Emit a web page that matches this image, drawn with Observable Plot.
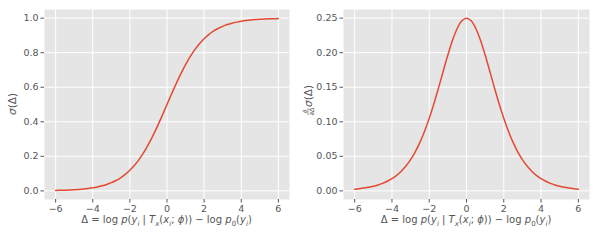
<!DOCTYPE html>
<html><head><meta charset="utf-8">
<script src="https://cdn.jsdelivr.net/npm/d3@7"></script>
<script src="https://cdn.jsdelivr.net/npm/@observablehq/plot@0.6"></script>
<style>
body{margin:0;background:#fff}
#c{position:relative;width:598px;height:240px}
#c svg{position:absolute;top:0}
</style>
</head><body><div id="c"></div>
<script>
const deltas = [-6,-5.75,-5.5,-5.25,-5,-4.75,-4.5,-4.25,-4,-3.75,-3.5,-3.25,-3,-2.75,-2.5,-2.25,-2,-1.75,-1.5,-1.25,-1,-0.75,-0.5,-0.25,0,
  0.25,0.5,0.75,1,1.25,1.5,1.75,2,2.25,2.5,2.75,3,3.25,3.5,3.75,4,4.25,4.5,4.75,5,5.25,5.5,5.75,6];
const sigmaVals = [0.0025,0.0032,0.0041,0.0052,0.0067,0.0086,0.011,0.0141,0.018,0.023,0.0293,0.0373,0.0474,0.0601,0.0759,0.0954,0.1192,0.148,0.1824,0.2227,0.2689,0.3208,0.3775,0.4378,0.5,
  0.5622,0.6225,0.6792,0.7311,0.7773,0.8176,0.852,0.8808,0.9046,0.9241,0.9399,0.9526,0.9627,0.9707,0.977,0.982,0.9859,0.989,0.9914,0.9933,0.9948,0.9959,0.9968,0.9975];
const dsigmaVals = [0.0025,0.0032,0.0041,0.0052,0.0066,0.0085,0.0109,0.0139,0.0177,0.0225,0.0285,0.0359,0.0452,0.0565,0.0701,0.0863,0.105,0.1261,0.1491,0.1731,0.1966,0.2179,0.235,0.2461,0.25,
  0.2461,0.235,0.2179,0.1966,0.1731,0.1491,0.1261,0.105,0.0863,0.0701,0.0565,0.0452,0.0359,0.0285,0.0225,0.0177,0.0139,0.0109,0.0085,0.0066,0.0052,0.0041,0.0032,0.0025];
const xTicks = [-6,-4,-2,0,2,4,6];
const yTicksLeft = [0,0.2,0.4,0.6,0.8,1.0];
const yTicksRight = [0,0.05,0.10,0.15,0.20,0.25];

const LINE = "#E24A33", BG = "#E5E5E5", INK = "#555555";
const minus = d => (d < 0 ? "\u2212" : "");

function panel(values, yDomain, yTicks, digits, mL, mR) {
  const data = deltas.map((x, i) => ({x, y: values[i]}));
  return Plot.plot({
    width: 299, height: 240,
    marginLeft: mL, marginRight: mR, marginTop: 9, marginBottom: 41,
    x: {domain: [-6.6, 6.6]},
    y: {domain: yDomain},
    style: {fontFamily: "DejaVu Sans", fontSize: "9.5px", color: INK, background: "transparent"},
    marks: [
      Plot.frame({fill: BG, stroke: "none"}),
      Plot.gridX(xTicks, {stroke: "#fff", strokeOpacity: 1, strokeWidth: 1}),
      Plot.gridY(yTicks, {stroke: "#fff", strokeOpacity: 1, strokeWidth: 1}),
      Plot.axisX(xTicks, {tickSize: 3.5, tickPadding: 2.5, label: null, fill: INK, stroke: INK,
        tickFormat: d => minus(d) + Math.abs(d)}),
      Plot.axisY(yTicks, {tickSize: 3.5, tickPadding: 2.5, label: null, fill: INK, stroke: INK,
        tickFormat: d => d.toFixed(digits)}),
      Plot.line(data, {x: "x", y: "y", stroke: LINE, strokeWidth: 1.5, curve: "catmull-rom"})
    ]
  });
}

function xLabel(svg, cx) {
  const parts = [["\u0394 = log ","n"],["p","i"],["(","n"],["y","i"],["i","s"],[" | ","n"],["T","i"],["x","s"],["(","n"],["x","i"],["i","s"],["; ","n"],["\u03d5","i"],[")) \u2212 log ","n"],["p","i"],["0","S"],["(","n"],["y","i"],["i","s"],[")","n"]];
  const t = d3.select(svg).append("text").attr("x", cx).attr("y", 223).attr("text-anchor", "middle")
    .attr("fill", INK).style("font-family", "DejaVu Sans").style("font-size", "10px");
  let sub = false;
  for (const [s, k] of parts) {
    const isSub = k === "s" || k === "S";
    const ts = t.append("tspan").text(s);
    if (k === "i" || k === "s") ts.style("font-style", "italic");
    if (isSub) ts.style("font-size", "7px");
    if (isSub && !sub) ts.attr("dy", 2.5);
    if (!isSub && sub) ts.attr("dy", -2.5);
    sub = isSub;
  }
}

const c = document.getElementById("c");
const left = panel(sigmaVals, [-0.05, 1.05], yTicksLeft, 1, 44, 10);
left.style.left = "0px";
c.appendChild(left);
const right = panel(dsigmaVals, [-0.0125, 0.2625], yTicksRight, 2, 44, 9);
right.style.left = "299px";
c.appendChild(right);

xLabel(left, (44 + 289) / 2);
xLabel(right, 44 + (299 - 9 - 44) / 2);

// left y label: σ(Δ)
{
  const g = d3.select(left).append("g").attr("transform", "translate(16,104) rotate(-90)");
  const t = g.append("text").attr("text-anchor", "middle").attr("fill", INK)
    .style("font-family", "DejaVu Sans").style("font-size", "10.5px");
  t.append("tspan").text("\u03c3").style("font-style", "italic");
  t.append("tspan").text("(\u0394)");
}
// right y label: ∂/∂Δ σ(Δ)
{
  const g = d3.select(right).append("g").attr("transform", "translate(9,101.5) rotate(-90)")
    .attr("fill", INK).style("font-family", "DejaVu Sans");
  g.append("text").attr("x", -10).attr("y", -1.5).attr("text-anchor", "middle").style("font-size", "6.5px")
    .style("font-style", "italic").text("\u2202");
  g.append("line").attr("x1", -13.5).attr("x2", -6.5).attr("y1", 0).attr("y2", 0).attr("stroke", INK).attr("stroke-width", 0.6);
  g.append("text").attr("x", -10).attr("y", 6).attr("text-anchor", "middle").style("font-size", "6.5px")
    .style("font-style", "italic").text("\u2202\u0394");
  const t = g.append("text").attr("x", -5.5).attr("y", 4).attr("text-anchor", "start").style("font-size", "10.5px");
  t.append("tspan").text("\u03c3").style("font-style", "italic");
  t.append("tspan").text("(\u0394)");
}
</script></body></html>
